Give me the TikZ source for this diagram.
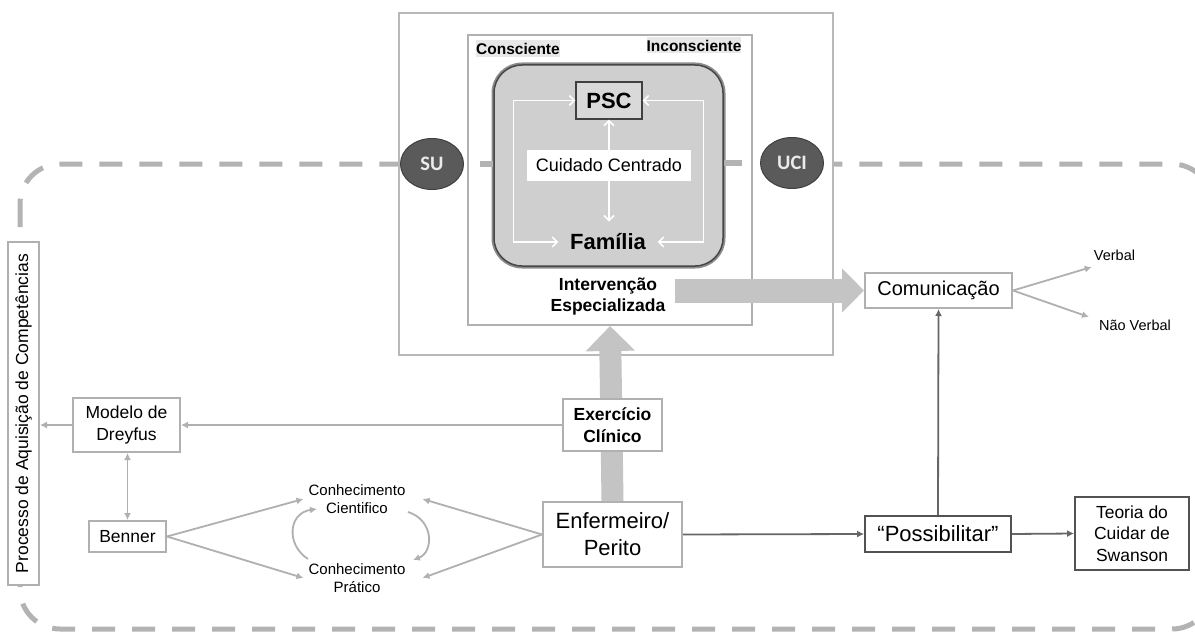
\documentclass[tikz,border=0pt]{standalone}
\usepackage{fontspec}
\setmainfont{Liberation Sans}
\newfontfamily\calfont{Carlito}
\usetikzlibrary{arrows.meta,shapes.geometric,calc}
\definecolor{lgray}{HTML}{B0B0B0}
\definecolor{dgray}{HTML}{666666}
\definecolor{barg}{HTML}{C4C4C4}
\definecolor{dashg}{HTML}{B3B3B3}
\definecolor{ellg}{HTML}{5A5A5A}
\definecolor{rbfill}{HTML}{CFCFCF}
\definecolor{lblbg}{HTML}{E8E8E8}
\tikzset{
  box/.style={draw=lgray, line width=2pt, fill=white, align=center, inner sep=0pt},
  dbox/.style={draw=dgray!80!black, line width=1.8pt, fill=white, align=center, inner sep=0pt},
  plain/.style={align=center, inner sep=0pt},
  larr/.style={draw=lgray, line width=1.8pt, -{Latex[length=7pt,width=7pt]}},
  ldarr/.style={draw=lgray, line width=1.8pt, {Latex[length=7pt,width=7pt]}-{Latex[length=7pt,width=7pt]}},
  darr/.style={draw=dgray, line width=1.8pt, -{Latex[length=7pt,width=7pt]}},
  warr/.style={draw=white, line width=1.6pt, {Straight Barb[length=5pt,width=10pt]}-{Straight Barb[length=5pt,width=10pt]}},
  bigup/.style={draw=barg, line width=22pt, -{Triangle[length=25pt,width=48pt]}},
  bigright/.style={draw=barg, line width=24pt, -{Triangle[length=22pt,width=43pt]}},
  ell/.style={ellipse, draw=black!75, line width=1pt, fill=ellg, text=white!92!black, font=\calfont\bfseries\fontsize{20.5}{24}\selectfont, minimum width=63pt, minimum height=51pt, inner sep=0pt},
}
\begin{document}
\begin{tikzpicture}[x=1pt,y=-1pt]
\useasboundingbox (0,0) rectangle (1195,634);
\fill[white] (0,0) rectangle (1195,634);
% dashed frame
\draw[dashg, line width=5pt, dash pattern=on 23pt off 17pt, rounded corners=40pt] (20,164) rectangle (1212,629);
% process box
\node[box, rotate=90, minimum width=343pt, minimum height=31pt, font=\fontsize{17.5}{21}\selectfont] (proc) at (23.5,413.5) {Processo de Aquisição de Competências};
% outer and inner boxes
\node[draw=lgray!90, line width=2.2pt, fill=white, minimum width=434pt, minimum height=342pt, inner sep=0pt] (outer) at (616,184) {};
\node[draw=lgray, line width=2pt, fill=white, minimum width=284pt, minimum height=290pt, inner sep=0pt] (inner) at (610,180) {};
\node[plain, fill=lblbg, minimum width=82pt, minimum height=17pt, font=\bfseries\fontsize{15.5}{18}\selectfont] (consc) at (518,48.5) {Consciente};
\node[plain, fill=lblbg, minimum width=94pt, minimum height=16pt, font=\bfseries\fontsize{15.5}{18}\selectfont] (incon) at (694,45.5) {Inconsciente};
% rounded box
\node[draw=black!72, line width=1.5pt, fill=rbfill, rounded corners=28pt, minimum width=229pt, minimum height=201pt, inner sep=0pt, preaction={draw=black!45, line width=5pt, rounded corners=28pt}] (rbox) at (608.5,165.5) {};
\node[draw=black!75, line width=1.2pt, fill=black!15, minimum width=66pt, minimum height=37pt, inner sep=0pt, font=\bfseries\fontsize{22}{26}\selectfont] (psc) at (609,100.5) {PSC};
\node[plain, inner xsep=11.5pt, font=\bfseries\fontsize{22}{26}\selectfont] (fam) at (608,242) {Família};
\draw[warr] (psc.west) -- ++(-62,0) |- (fam.west);
\draw[warr] (psc.east) -- ++(61,0) |- (fam.east);
\draw[warr] (psc.south) -- ++(0,102);
\node[plain, fill=white, minimum width=164pt, minimum height=31pt, font=\fontsize{18}{21}\selectfont] (cc0) at (609,165.5) {Cuidado Centrado};
% SU / UCI
\node[ell] (su) at (432,164) {SU};
\node[ell] (uci) at (792,163) {UCI};
\draw[dashg, line width=6pt] ($(su.east)+(15.5,0)$) -- (rbox.west |- su.east);
\draw[dashg, line width=6pt] (rbox.east |- uci.west) -- ($(uci.west)+(-18.5,0)$);
% intervention
\node[plain, font=\bfseries\fontsize{17.5}{21}\selectfont] (interv) at (608,297) {Intervenção\\Especializada};
% communication
\node[box, minimum width=147pt, minimum height=35pt, font=\fontsize{20}{24}\selectfont] (comm) at (938.5,290.5) {Comunicação};
\node[plain, font=\fontsize{14.5}{17}\selectfont] (verb) at (1114.5,255) {Verbal};
\node[plain, font=\fontsize{14.5}{17}\selectfont] (nverb) at (1135,325) {Não Verbal};
\draw[larr] (comm.east) -- ($(verb.west)+(-2,12)$);
\draw[larr] (comm.east) -- ($(nverb.west)+(-10,-8)$);
\draw[bigright] ($(interv.east |- comm.west)+(9,0)$) -- (comm.west);
% nurse and clinical exercise
\node[box, minimum width=139pt, minimum height=65pt, font=\fontsize{22}{27}\selectfont] (enf) at (612.5,534.5) {Enfermeiro/\\Perito};
\draw[bigup] (enf.north) -- (inner.south);
\node[box, minimum width=99pt, minimum height=52pt, font=\bfseries\fontsize{17.5}{22}\selectfont] (exer) at (612.5,425) {Exercício\\Clínico};
% Dreyfus / Benner
\node[box, minimum width=107pt, minimum height=54pt, font=\fontsize{17.5}{22}\selectfont] (drey) at (126.5,425) {Modelo de\\Dreyfus};
\node[box, minimum width=77pt, minimum height=31pt, font=\fontsize{17.5}{21}\selectfont] (benn) at (127.5,536.5) {Benner};
\draw[larr] (exer.west) -- (drey.east);
\draw[larr] (drey.west) -- (proc.south |- drey.west);
\draw[ldarr] (drey.south -| benn.north) -- (benn.north);
% knowledge
\node[plain, inner xsep=5pt, font=\fontsize{15}{17.5}\selectfont] (cc) at (357,499) {Conhecimento\\Cientifico};
\node[plain, inner xsep=5pt, font=\fontsize{15}{18.5}\selectfont] (cp) at (357,578) {Conhecimento\\Prático};
\draw[larr] (benn.east) -- (cc.west);
\draw[larr] (benn.east) -- (cp.west);
\draw[larr] (enf.west) -- ($(cc.east)+(12,0)$);
\draw[larr] (enf.west) -- ($(cp.east)+(12,0)$);
\draw[larr] (308,559) .. controls (286,545) and (288,513) .. (317,509);
\draw[larr] (408,512) .. controls (434,520) and (434,552) .. (413,560);
% possibilitar / swanson
\node[dbox, minimum width=146pt, minimum height=36pt, font=\fontsize{22}{26}\selectfont] (poss) at (938,534) {“Possibilitar”};
\node[dbox, minimum width=114pt, minimum height=73pt, font=\fontsize{17.5}{21.5}\selectfont] (teor) at (1132,533.5) {Teoria do\\Cuidar de\\Swanson};
\draw[darr] (enf.east) -- (poss.west);
\draw[darr] (poss.east) -- (teor.west);
\draw[darr] (poss.north) -- (comm.south);
\end{tikzpicture}
\end{document}
